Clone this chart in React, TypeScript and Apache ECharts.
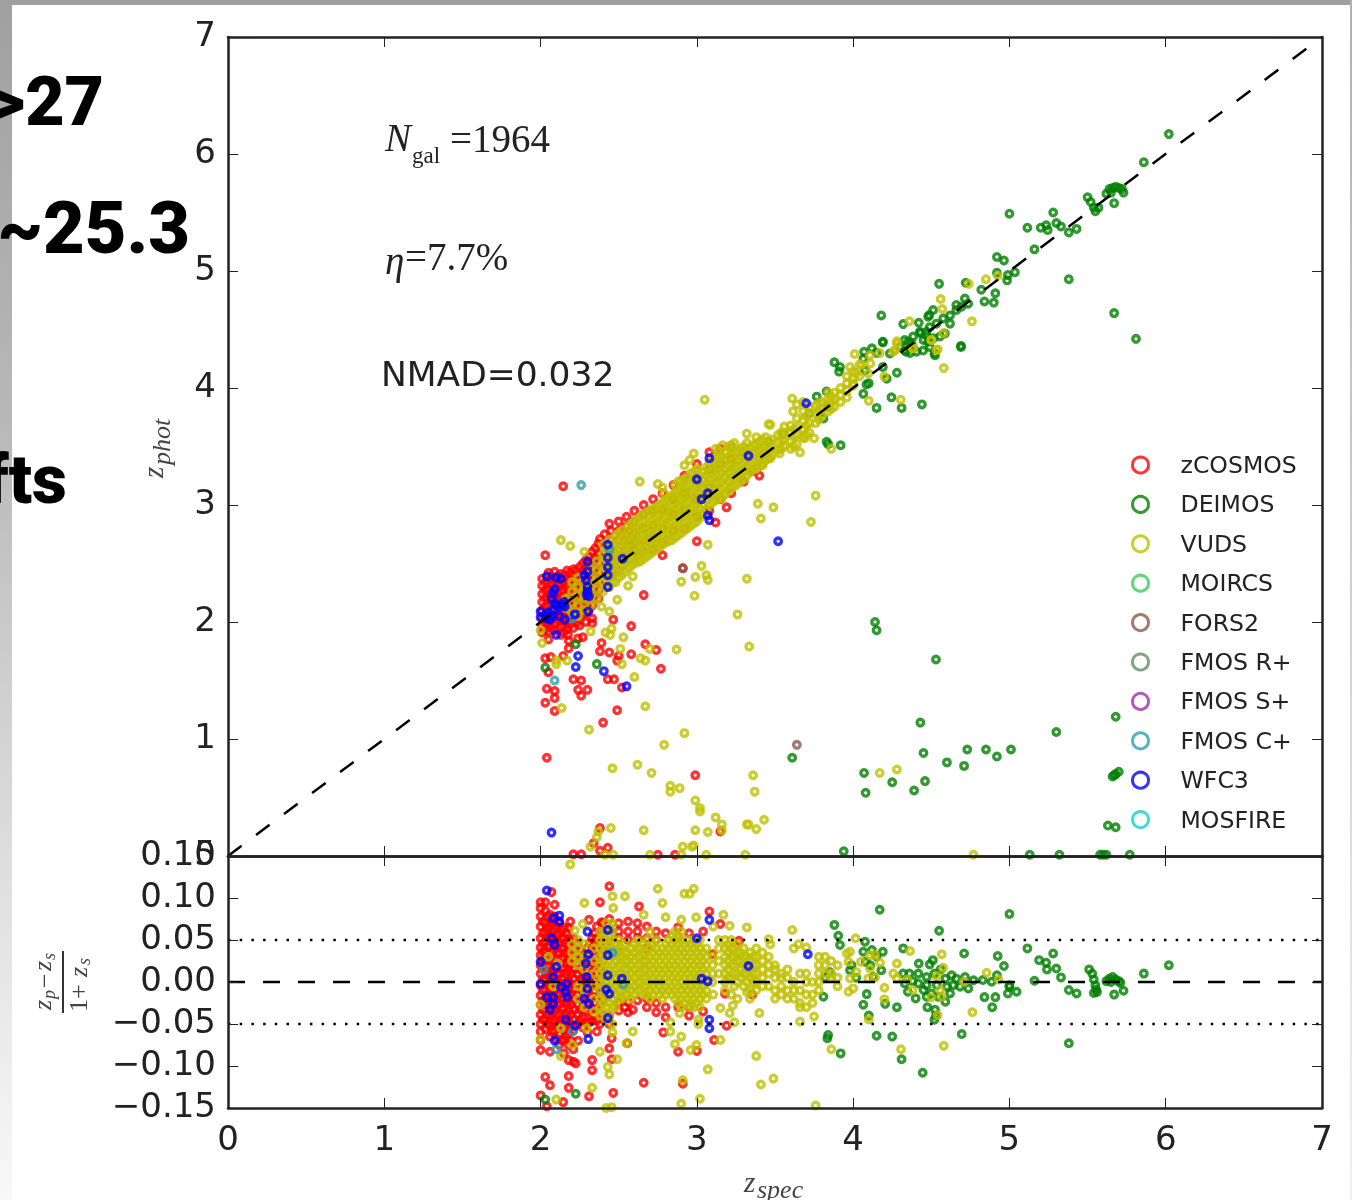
import React, { useEffect, useRef } from "react";
import * as echarts from "echarts";

type Cols = [number, number[]][];
const cols = (t: Cols) => t.flatMap(([x, ys]) => ys.map((y) => [x, y]));

const axisTicksTop = [0, 1, 2, 3, 4, 5, 6, 7];
const legendNames = ["zCOSMOS", "DEIMOS", "VUDS", "MOIRCS", "FORS2", "FMOS R+", "FMOS S+", "FMOS C+", "WFC3", "MOSFIRE"];
const legendColors = ["#ff0000", "#008000", "#bfbf00", "#3fc95f", "#8c5a45", "#5f9060", "#a030b0", "#2fa0a8", "#0000ff", "#10d0d8"];

/* ---------- upper panel: zspec, zphot ---------- */
const zcosmosTopLoose = [
  [2.145, 3.16], [2.03, 2.57], [2.38, 2.71], [2.44, 2.84], [2.58, 1.965], [2.66, 2.23], [2.67, 1.81], [2.74, 1.76], [2.58, 1.725], [2.77, 1.6],
  [2.39, 1.82], [2.38, 1.75], [2.44, 1.74], [2.5, 1.71], [2.49, 1.67], [2.43, 1.51], [2.47, 1.51], [2.52, 1.44], [2.49, 1.245], [2.4, 1.14],
  [2.03, 1.31], [2.09, 1.24], [2.09, 1.35], [2.09, 1.41], [2.04, 1.43], [2.26, 1.37], [2.24, 1.42], [2.3, 1.42], [2.26, 1.5], [2.21, 1.51],
  [2.05, 1.57], [2.03, 1.69], [2.065, 1.7], [2.145, 1.71], [2.18, 1.775], [2.18, 1.84], [2.175, 1.89], [2.24, 1.86], [2.27, 1.87], [2.33, 1.99],
  [2.33, 2.03], [2.465, 2.02], [2.78, 2.57], [3.19, 2.98], [3.12, 2.85], [3.0, 2.69], [2.91, 2.46], [3.36, 3.29], [3.4, 3.25], [2.04, 0.84],
  [2.99, 0.69], [3.15, 0.21], [2.38, 0.24], [2.34, 0.11], [2.43, 0.07], [2.38, 0.045], [2.21, 0.015], [2.26, 0.015], [2.75, 0.01], [2.86, 0.01],
];
const zcosmosTopCloud: Cols = [
  [2.01, [2.37, 2.31, 2.24, 2.17, 2.1, 2.03, 1.97, 1.91]],
  [2.05, [2.42, 2.35, 2.28, 2.2, 2.14, 2.06, 1.99, 1.92, 1.85]],
  [2.09, [2.43, 2.36, 2.29, 2.22, 2.15, 2.07, 1.98, 1.93]],
  [2.13, [2.41, 2.33, 2.26, 2.2, 2.11, 2.03, 1.96, 1.89]],
  [2.17, [2.44, 2.37, 2.3, 2.23, 2.16, 2.08, 2.0, 1.94]],
  [2.21, [2.45, 2.39, 2.31, 2.25, 2.17, 2.1, 2.02, 1.95]],
  [2.25, [2.47, 2.4, 2.33, 2.26, 2.19, 2.11, 2.04, 1.97]],
  [2.29, [2.53, 2.46, 2.38, 2.31, 2.24, 2.16, 2.08, 2.0]],
  [2.33, [2.6, 2.52, 2.44, 2.37, 2.3, 2.22, 2.14]],
  [2.37, [2.67, 2.58, 2.5, 2.42, 2.35, 2.27, 2.2]],
  [2.41, [2.75, 2.66, 2.59, 2.5, 2.43, 2.35]],
  [2.45, [2.78, 2.7, 2.62, 2.55, 2.47, 2.39]],
  [2.5, [2.86, 2.78, 2.7, 2.62, 2.53, 2.44]],
  [2.55, [2.9, 2.82, 2.74, 2.65, 2.57]],
  [2.6, [2.95, 2.86, 2.76, 2.68, 2.6]],
  [2.66, [3.0, 2.92, 2.8, 2.7, 2.6]],
  [2.72, [3.05, 2.95, 2.82, 2.72, 2.62]],
  [2.78, [3.1, 2.96, 2.8, 2.68]],
  [2.85, [3.17, 3.05, 2.92, 2.78]],
  [2.92, [3.25, 3.1, 2.95, 2.8]],
  [3.0, [3.35, 3.2, 3.05, 2.9]],
  [3.08, [3.45, 3.3, 3.15, 2.95]],
  [3.15, [3.48, 3.35, 3.05]],
  [3.22, [3.5, 3.4, 3.1]],
  [3.3, [3.45, 3.2]],
];
const zcosmosTopStagger: Cols = [
  [2.03, [2.34, 2.27, 2.2, 2.13, 2.06, 2.0, 1.94]],
  [2.07, [2.39, 2.32, 2.25, 2.18, 2.11, 2.03, 1.95]],
  [2.11, [2.39, 2.31, 2.24, 2.18, 2.09, 2.01]],
  [2.15, [2.4, 2.34, 2.27, 2.18, 2.12, 2.05, 1.97, 1.91]],
  [2.19, [2.42, 2.35, 2.28, 2.2, 2.13, 2.05, 1.98]],
  [2.23, [2.44, 2.36, 2.3, 2.22, 2.15, 2.07, 1.99]],
  [2.27, [2.5, 2.43, 2.36, 2.28, 2.21, 2.14, 2.06]],
  [2.31, [2.56, 2.49, 2.41, 2.34, 2.27, 2.19, 2.11]],
  [2.35, [2.63, 2.55, 2.47, 2.39, 2.32, 2.24]],
];
const deimosTop = [
  [4.14, 2.0], [4.15, 1.93], [4.53, 1.68], [4.43, 1.14], [5.3, 1.06], [5.68, 1.19], [4.45, 0.88], [4.73, 0.91], [4.85, 0.91], [5.01, 0.91],
  [4.92, 0.85], [4.6, 0.8], [4.71, 0.77], [4.07, 0.71], [4.25, 0.63], [4.46, 0.64], [4.39, 0.56], [4.08, 0.54], [3.61, 0.84], [5.7, 0.72],
  [5.67, 0.69], [5.66, 0.68], [5.68, 0.7], [5.63, 0.26], [5.68, 0.245], [3.94, 0.04], [5.13, 0.01], [5.32, 0.01], [5.58, 0.01], [5.6, 0.01],
  [5.62, 0.01], [5.77, 0.01], [2.225, 1.81], [2.36, 1.64], [2.03, 1.61],
  [3.83, 3.54], [3.84, 3.52], [3.92, 3.51], [3.81, 3.74], [3.88, 4.22], [3.91, 4.14], [4.07, 4.31], [4.19, 4.39], [4.69, 4.36], [4.28, 4.13],
  [4.085, 4.03], [4.065, 3.95], [4.245, 3.92], [4.15, 3.83], [4.31, 3.83], [4.44, 3.86],
  [6.02, 6.17], [5.86, 5.93], [5.0, 5.49], [5.28, 5.5], [5.115, 5.37], [5.2, 5.37], [5.235, 5.39], [5.245, 5.35], [5.3, 5.41], [5.33, 5.38],
  [5.38, 5.33], [5.43, 5.36], [5.16, 5.185], [4.92, 5.12], [4.965, 5.09], [5.38, 4.93], [5.67, 4.64], [5.81, 4.42], [4.69, 4.35], [4.55, 4.89],
  [4.18, 4.62], [5.5, 5.63], [5.52, 5.59], [5.54, 5.54], [5.55, 5.51], [5.57, 5.54], [5.67, 5.58], [5.73, 5.67], [5.64, 5.7], [5.66, 5.71],
  [5.68, 5.72], [5.7, 5.71], [5.72, 5.7], [5.62, 5.66], [5.65, 5.67], [5.035, 4.99], [4.99, 4.965], [4.985, 4.92], [4.92, 4.985], [4.91, 4.81],
  [4.9, 4.73], [4.84, 4.74], [4.82, 4.84], [4.72, 4.9], [4.32, 4.546], [4.42, 4.557], [4.487, 4.623], [4.512, 4.666], [4.62, 4.55], [4.66, 4.71],
  [4.715, 4.765], [4.736, 4.72], [4.19, 4.395], [4.33, 4.32], [4.405, 4.31], [4.45, 4.41], [4.47, 4.48], [4.52, 4.295], [4.587, 4.466], [4.427, 4.48],
  [4.384, 4.44], [4.352, 4.395], [4.3, 4.35], [4.49, 4.52], [4.533, 4.55], [4.576, 4.594], [4.62, 4.62], [4.66, 4.666], [4.694, 4.694], [4.555, 4.44],
  [4.49, 4.35], [4.448, 4.32], [4.374, 4.38], [4.33, 4.41], [4.235, 4.295], [4.48, 4.61], [4.34, 4.31], [4.385, 4.34], [4.43, 4.47], [4.48, 4.396],
  [4.524, 4.28], [4.47, 4.45], [4.513, 4.425], [4.065, 4.25], [4.12, 4.34], [4.076, 4.15], [4.15, 4.3], [4.215, 4.08], [3.916, 4.18], [3.767, 3.926],
  [3.83, 3.97], [3.84, 3.84], [3.72, 3.78], [3.553, 3.61], [3.457, 3.54], [4.364, 4.3], [4.19, 4.18], [4.1, 4.04],
];
const vudsTopLoose = [
  [2.31, 1.08], [2.92, 1.05], [2.79, 0.95], [2.46, 0.75], [2.62, 0.78], [2.71, 0.71], [3.36, 0.69], [3.37, 0.55], [2.83, 0.6], [2.89, 0.58],
  [2.83, 0.55], [2.99, 0.475], [3.02, 0.41], [3.02, 0.38], [3.12, 0.33], [3.16, 0.27], [3.16, 0.22], [3.07, 0.205], [2.99, 0.22], [3.32, 0.27],
  [3.33, 0.27], [3.38, 0.23], [3.43, 0.31], [2.66, 0.22], [2.45, 0.24], [2.37, 0.21], [2.36, 0.16], [2.32, 0.08], [2.41, 0.01], [2.465, 0.01],
  [2.7, 0.01], [2.9, 0.01], [3.06, 0.01], [3.31, 0.01], [2.91, 0.08], [2.97, 0.08], [2.98, 0.09], [4.17, 0.71], [4.28, 0.74], [4.77, 0.01],
  [2.13, 2.7], [2.19, 2.65], [2.28, 2.6], [2.9, 2.345], [2.99, 2.385], [3.03, 2.48], [3.06, 2.4], [3.07, 2.36], [2.985, 2.225], [3.32, 2.37],
  [3.26, 2.065], [3.335, 1.79], [2.87, 1.765], [2.67, 1.28], [2.135, 1.265], [2.6, 1.53], [2.52, 1.64], [2.67, 1.67], [2.64, 1.69], [2.7, 1.77],
  [2.51, 1.77], [2.53, 1.87], [2.455, 1.945], [2.445, 1.89], [2.415, 1.91], [2.32, 1.92], [2.01, 1.82], [2.0, 1.93], [2.1, 1.67], [2.1, 1.64],
  [2.17, 1.67], [2.59, 2.39], [2.56, 2.31], [2.49, 2.19], [2.39, 2.13], [2.44, 2.09], [3.07, 2.66], [3.39, 3.01], [3.49, 2.98], [3.41, 2.885],
  [2.635, 3.2], [2.75, 3.18], [2.78, 3.15], [2.79, 3.1], [3.05, 3.9], [3.76, 3.08], [3.73, 2.855], [3.32, 3.61], [2.98, 3.44], [2.92, 3.34],
  [2.955, 3.385], [3.0, 3.31], [3.165, 3.51], [3.21, 3.5], [3.38, 3.58], [3.46, 3.69], [3.47, 3.685], [3.61, 3.91], [3.615, 3.8], [3.66, 3.45],
  [3.75, 3.57], [3.69, 3.57], [3.53, 3.44], [3.47, 3.4], [3.42, 3.34], [3.86, 3.48], [4.1, 3.89], [4.305, 3.9], [4.58, 4.17], [4.01, 4.29],
  [4.74, 4.89], [4.85, 4.93], [4.925, 4.96], [4.76, 4.57], [4.56, 4.76], [4.57, 4.675], [4.36, 4.57], [4.5, 4.41], [4.54, 4.33], [4.38, 4.34],
  [4.27, 4.325], [4.28, 4.4], [4.28, 4.38], [4.257, 4.31], [4.385, 4.34], [4.5, 4.41], [4.577, 4.468], [4.534, 4.325], [4.108, 4.28], [4.17, 4.3],
  [4.11, 4.21], [4.097, 4.125], [4.2, 4.097], [3.98, 4.18], [4.02, 4.125], [3.96, 4.1], [4.0, 4.04], [4.055, 4.2],
];
const vudsTopCloud: Cols = [
  [2.16, [2.12, 2.2]],
  [2.2, [2.08, 2.16, 2.26, 2.34]],
  [2.24, [2.05, 2.14, 2.22, 2.3, 2.38]],
  [2.28, [2.1, 2.2, 2.28, 2.36]],
  [2.32, [2.14, 2.22, 2.3, 2.38, 2.46]],
  [2.36, [2.2, 2.28, 2.36, 2.44, 2.52]],
  [2.4, [2.26, 2.34, 2.42, 2.5, 2.58, 2.66]],
  [2.44, [2.3, 2.38, 2.46, 2.54, 2.62, 2.7]],
  [2.48, [2.34, 2.42, 2.5, 2.58, 2.66, 2.74]],
  [2.52, [2.4, 2.48, 2.55, 2.63, 2.7, 2.78]],
  [2.56, [2.46, 2.53, 2.6, 2.67, 2.74, 2.82]],
  [2.6, [2.5, 2.57, 2.64, 2.71, 2.78, 2.86]],
  [2.64, [2.52, 2.6, 2.67, 2.74, 2.81, 2.9]],
  [2.68, [2.56, 2.63, 2.7, 2.77, 2.84, 2.94]],
  [2.72, [2.6, 2.67, 2.74, 2.81, 2.88, 2.97]],
  [2.76, [2.64, 2.71, 2.78, 2.85, 2.92, 3.0]],
  [2.8, [2.68, 2.75, 2.82, 2.89, 2.96, 3.04]],
  [2.84, [2.7, 2.78, 2.86, 2.93, 3.0, 3.08]],
  [2.88, [2.74, 2.82, 2.9, 2.97, 3.04, 3.12, 3.2]],
  [2.92, [2.78, 2.86, 2.93, 3.0, 3.07, 3.14, 3.22]],
  [2.96, [2.82, 2.9, 2.97, 3.04, 3.11, 3.18, 3.27]],
  [3.0, [2.86, 2.94, 3.01, 3.08, 3.15, 3.22, 3.3]],
  [3.04, [2.92, 3.0, 3.07, 3.14, 3.21, 3.28]],
  [3.08, [3.0, 3.08, 3.15, 3.22, 3.29, 3.36]],
  [3.12, [3.04, 3.11, 3.18, 3.25, 3.32, 3.4, 3.48]],
  [3.16, [3.06, 3.14, 3.21, 3.28, 3.35, 3.42]],
  [3.2, [3.12, 3.2, 3.27, 3.34, 3.41, 3.5]],
  [3.24, [3.16, 3.24, 3.31, 3.38, 3.45, 3.53]],
  [3.28, [3.2, 3.27, 3.34, 3.41, 3.48]],
  [3.32, [3.25, 3.32, 3.39, 3.46, 3.53]],
  [3.36, [3.3, 3.37, 3.44, 3.51]],
  [3.4, [3.33, 3.4, 3.47, 3.54]],
  [3.44, [3.38, 3.44, 3.51, 3.58]],
  [3.48, [3.42, 3.49, 3.56]],
  [3.52, [3.47, 3.54, 3.6]],
  [3.56, [3.5, 3.56, 3.62, 3.67]],
  [3.6, [3.48, 3.55, 3.62, 3.68]],
  [3.64, [3.52, 3.6, 3.66, 3.74, 3.86]],
  [3.68, [3.58, 3.65, 3.72, 3.8, 3.88]],
  [3.72, [3.62, 3.7, 3.78, 3.84]],
  [3.76, [3.7, 3.78, 3.85]],
  [3.8, [3.76, 3.82, 3.88]],
  [3.84, [3.8, 3.86, 3.9, 3.96]],
  [3.88, [3.84, 3.9, 3.96]],
  [3.92, [3.88, 3.94, 4.0]],
  [3.96, [3.92, 3.98, 4.04]],
  [4.0, [4.02, 4.08, 4.14]],
  [4.04, [4.1, 4.2]],
];
const vudsTopStagger: Cols = [
  [2.42, [2.3, 2.38, 2.46, 2.54, 2.62]],
  [2.46, [2.34, 2.42, 2.5, 2.58, 2.66]],
  [2.5, [2.38, 2.46, 2.53, 2.61, 2.68, 2.76]],
  [2.54, [2.43, 2.51, 2.58, 2.65, 2.72]],
  [2.58, [2.48, 2.55, 2.62, 2.69, 2.76, 2.84]],
  [2.62, [2.51, 2.58, 2.65, 2.72, 2.8, 2.88]],
  [2.66, [2.54, 2.61, 2.68, 2.75, 2.82, 2.92]],
  [2.7, [2.58, 2.65, 2.72, 2.79, 2.86, 2.95]],
  [2.74, [2.62, 2.69, 2.76, 2.83, 2.9, 2.98]],
  [2.78, [2.66, 2.73, 2.8, 2.87, 2.94, 3.02]],
  [2.82, [2.69, 2.76, 2.84, 2.91, 2.98, 3.06]],
  [2.86, [2.72, 2.8, 2.88, 2.95, 3.02, 3.1, 3.17]],
  [2.9, [2.76, 2.84, 2.91, 2.98, 3.05, 3.13, 3.21]],
  [2.94, [2.8, 2.88, 2.95, 3.02, 3.09, 3.16, 3.24]],
  [2.98, [2.84, 2.92, 2.99, 3.06, 3.13, 3.2, 3.28]],
  [3.02, [2.89, 2.97, 3.04, 3.11, 3.18, 3.25]],
  [3.06, [2.96, 3.04, 3.11, 3.18, 3.25, 3.32]],
  [3.1, [3.02, 3.09, 3.16, 3.23, 3.3, 3.38]],
  [3.14, [3.05, 3.12, 3.19, 3.26, 3.33, 3.41, 3.46]],
  [3.18, [3.09, 3.17, 3.24, 3.31, 3.38, 3.45]],
  [3.22, [3.14, 3.22, 3.29, 3.36, 3.43, 3.51]],
  [3.26, [3.18, 3.25, 3.32, 3.39, 3.46]],
  [3.3, [3.22, 3.29, 3.36, 3.43, 3.5]],
  [3.34, [3.28, 3.35, 3.42, 3.49]],
  [3.38, [3.31, 3.38, 3.45, 3.52]],
  [3.42, [3.35, 3.42, 3.49, 3.56]],
  [3.46, [3.4, 3.47, 3.54]],
  [3.54, [3.48, 3.55, 3.62]],
  [3.62, [3.5, 3.58, 3.65]],
  [3.7, [3.6, 3.68, 3.76]],
  [3.78, [3.73, 3.8, 3.87]],
  [3.86, [3.82, 3.88, 3.93]],
];
const fors2Top = [[3.64, 0.95], [2.91, 2.46]];
const fmosCTop = [[2.26, 3.17], [2.09, 1.5], [2.44, 2.62], [2.2, 2.03]];
const wfc3Top = [
  [2.07, 0.2], [2.43, 2.66], [2.43, 2.55], [2.43, 2.47], [2.43, 2.4], [2.43, 2.3], [2.525, 2.54], [2.3, 2.515], [2.3, 2.43], [2.29, 2.36],
  [2.3, 2.3], [2.295, 2.23], [2.31, 2.22], [2.305, 2.09], [2.04, 2.39], [2.13, 2.37], [2.1, 2.38], [2.08, 2.245], [2.1, 2.145], [2.14, 2.15], [2.155, 2.13],
  [2.07, 2.2], [2.08, 2.1], [2.0, 2.09], [2.0, 2.04], [2.06, 2.02], [2.03, 2.05], [2.155, 2.02], [2.22, 2.065], [2.1, 1.89], [2.24, 1.71], [2.225, 1.615],
  [2.405, 1.58], [2.55, 1.45], [3.7, 3.87], [3.33, 3.42], [3.08, 3.4], [3.0, 3.22], [3.03, 3.05], [3.07, 3.1], [3.07, 2.91], [3.08, 2.87], [3.52, 2.69],
  [2.09, 2.16], [2.12, 2.13], [2.15, 2.17], [2.05, 2.08], [2.07, 2.05], [2.04, 2.03], [2.12, 2.05], [2.09, 2.28], [2.3, 2.26], [2.28, 2.4],
];

/* ---------- lower panel: zspec, (zp - zs) / (1 + zs) ---------- */
const zcosmosResLoose = [
  [2.44, 0.114], [2.07, 0.107], [2.38, 0.095], [2.0, 0.095], [2.03, 0.095], [2.0, 0.088], [2.09, 0.092], [2.63, 0.09], [2.31, 0.074], [2.19, 0.072],
  [2.05, 0.064], [2.39, 0.071], [3.08, 0.084], [3.15, 0.069], [3.27, 0.049], [3.1, 0.033], [3.18, -0.014], [3.355, -0.015], [3.19, -0.052], [3.11, -0.069],
  [2.88, -0.083], [3.0, -0.082], [2.785, -0.06], [2.59, -0.033], [2.54, -0.03], [2.36, -0.059], [2.455, -0.067], [2.555, -0.073], [2.44, -0.079], [2.455, -0.092],
  [2.33, -0.093], [2.33, -0.105], [2.225, -0.097], [2.18, -0.093], [2.0, -0.081], [2.06, -0.083], [2.18, -0.112], [2.03, -0.113], [2.06, -0.123], [2.18, -0.126],
  [2.31, -0.136], [2.465, -0.132], [2.66, -0.12], [2.91, -0.121], [2.0, -0.135], [2.145, -0.143], [2.04, -0.148], [2.0, -0.069], [2.0, -0.059],
];
const zcosmosResCloud: Cols = [
  [2.0, [0.078, 0.066, 0.052, 0.041, 0.032, 0.02, 0.01, -0.004, -0.016, -0.027, -0.039, -0.05]],
  [2.03, [0.085, 0.07, 0.06, 0.048, 0.037, 0.026, 0.013, 0.002, -0.009, -0.022, -0.033, -0.045, -0.056]],
  [2.06, [0.08, 0.067, 0.055, 0.043, 0.03, 0.019, 0.007, -0.006, -0.017, -0.028, -0.04, -0.052, -0.065]],
  [2.09, [0.078, 0.063, 0.05, 0.04, 0.028, 0.015, 0.004, -0.01, -0.022, -0.034, -0.046, -0.058]],
  [2.12, [0.07, 0.058, 0.046, 0.034, 0.022, 0.01, -0.002, -0.014, -0.026, -0.038, -0.05, -0.062, -0.075]],
  [2.15, [0.065, 0.053, 0.041, 0.029, 0.017, 0.005, -0.007, -0.019, -0.031, -0.043, -0.055, -0.068, -0.085]],
  [2.18, [0.064, 0.05, 0.038, 0.026, 0.014, 0.002, -0.01, -0.022, -0.034, -0.046, -0.06, -0.075]],
  [2.21, [0.052, 0.04, 0.028, 0.016, 0.004, -0.008, -0.02, -0.032, -0.044, -0.058, -0.08, -0.095]],
  [2.24, [0.045, 0.033, 0.021, 0.009, -0.003, -0.015, -0.027, -0.039, -0.05, -0.07]],
  [2.27, [0.03, 0.018, 0.006, -0.006, -0.018, -0.03, -0.042, -0.054]],
  [2.3, [0.04, 0.026, 0.012, 0.0, -0.012, -0.024, -0.036, -0.048, -0.06]],
  [2.33, [0.052, 0.038, 0.024, 0.01, -0.004, -0.018, -0.032, -0.046]],
  [2.36, [0.066, 0.052, 0.038, 0.024, 0.01, -0.004, -0.018, -0.032, -0.046]],
  [2.4, [0.07, 0.056, 0.04, 0.025, 0.01, -0.006, -0.022, -0.04]],
  [2.44, [0.075, 0.062, 0.048, -0.04, -0.05]],
  [2.5, [0.07, 0.06, 0.052, 0.036, -0.025, -0.034]],
  [2.56, [0.072, 0.06, 0.05, -0.024, -0.036]],
  [2.62, [0.07, 0.06, 0.052, -0.022]],
  [2.68, [0.066, 0.052, 0.04, -0.02, -0.03]],
  [2.74, [0.06, 0.05, -0.025, -0.036]],
  [2.8, [0.058, -0.03, -0.042]],
  [2.88, [0.065, 0.054, -0.03]],
  [2.95, [0.058, -0.03, -0.04]],
  [3.04, [0.06, -0.035]],
];
const zcosmosResStagger: Cols = [
  [2.015, [0.072, 0.058, 0.046, 0.036, 0.026, 0.015, 0.003, -0.01, -0.022, -0.033, -0.045]],
  [2.045, [0.078, 0.064, 0.054, 0.042, 0.031, 0.02, 0.01, -0.003, -0.015, -0.028, -0.039, -0.05]],
  [2.075, [0.072, 0.06, 0.048, 0.036, 0.024, 0.011, -0.002, -0.014, -0.025, -0.037, -0.049, -0.06]],
  [2.105, [0.066, 0.056, 0.045, 0.034, 0.021, 0.009, -0.003, -0.016, -0.028, -0.04, -0.052, -0.068]],
  [2.135, [0.062, 0.052, 0.04, 0.028, 0.016, 0.004, -0.008, -0.02, -0.032, -0.044, -0.056, -0.07]],
  [2.165, [0.058, 0.046, 0.034, 0.022, 0.01, -0.002, -0.014, -0.026, -0.038, -0.05, -0.064]],
  [2.195, [0.048, 0.034, 0.022, 0.01, -0.003, -0.015, -0.027, -0.039, -0.052, -0.07]],
  [2.255, [0.038, 0.027, 0.015, 0.003, -0.009, -0.021, -0.033, -0.045]],
  [2.315, [0.046, 0.032, 0.018, 0.005, -0.007, -0.02, -0.034, -0.048]],
  [2.345, [0.058, 0.045, 0.031, 0.017, 0.003, -0.011, -0.025, -0.04]],
  [2.38, [0.06, 0.046, 0.03, 0.016, 0.002, -0.014, -0.03, -0.05]],
];
const deimosRes = [
  [2.03, -0.14], [2.225, -0.133], [3.88, 0.068], [3.905, 0.055], [3.916, 0.044], [4.17, 0.086], [5.0, 0.081], [4.55, 0.061], [5.115, 0.04], [5.28, 0.034],
  [5.19, 0.026], [5.235, 0.023], [5.24, 0.015], [5.3, 0.016], [5.33, 0.0055], [5.16, 0.0015], [5.51, 0.015], [5.86, 0.01], [6.02, 0.02], [5.38, -0.0096],
  [5.43, -0.0136], [5.67, -0.015], [5.73, -0.0104], [5.64, 0.004], [5.66, 0.006], [5.68, 0.003], [5.7, 0.001], [5.71, -0.001], [5.62, 0.001], [5.65, 0.0],
  [5.53, 0.01], [5.54, 0.003], [5.55, -0.004], [5.555, -0.009], [5.56, -0.012], [5.54, -0.013], [5.38, -0.073],
  [4.925, 0.031], [4.965, 0.019], [4.71, 0.034], [3.84, -0.063], [3.835, -0.067], [3.92, -0.085], [4.15, -0.064], [4.25, -0.065], [4.31, -0.092], [4.445, -0.108],
  [4.695, -0.062], [4.065, -0.027], [4.1, -0.04], [4.205, -0.026], [4.28, -0.03], [4.84, -0.018], [4.91, -0.018], [4.89, -0.03], [5.046, -0.0116], [4.99, -0.0136],
  [5.0, -0.0056], [4.087, -0.0144], [3.81, -0.0175], [4.52, -0.045], [4.53, -0.04], [4.524, -0.033], [4.475, -0.03], [4.59, -0.0235], [4.62, -0.0136], [4.4, -0.0195],
  [4.35, -0.0116], [4.065, 0.036], [4.12, 0.038], [4.19, 0.036], [4.076, 0.048], [4.32, 0.04], [4.42, 0.022], [4.51, 0.026], [4.49, 0.021], [3.98, 0.014],
  [4.11, 0.02], [4.18, 0.014], [4.13, 0.006], [4.32, 0.01], [4.36, 0.01], [4.417, 0.01], [4.47, 0.006], [4.52, 0.01], [4.59, 0.004], [4.66, 0.004],
  [4.716, 0.006], [4.83, 0.0023], [4.886, 0.0003], [4.92, 0.008], [5.0, -0.004], [4.33, -0.0017], [4.417, -0.0017], [4.47, -0.0037], [4.535, -0.0037], [4.6, -0.0056],
  [4.64, -0.0037], [4.684, -0.0056], [4.737, -0.0076], [4.45, -0.0096], [4.5, -0.0136], [4.545, -0.0175], [4.47, -0.0175], [4.38, 0.001], [4.56, 0.015], [4.63, 0.008],
  [4.77, 0.002], [4.08, 0.024], [4.15, 0.03], [3.99, 0.02], [4.02, 0.005], [3.85, 0.012], [3.82, 0.005],
];
const vudsResLoose = [
  [2.75, 0.111], [2.98, 0.111], [2.92, 0.105], [2.955, 0.105], [2.54, 0.102], [2.46, 0.102], [2.28, 0.094], [2.78, 0.094], [2.465, 0.088], [2.8, 0.077],
  [2.9, 0.074], [2.995, 0.077], [3.17, 0.08], [3.32, 0.065], [3.61, 0.062], [3.105, 0.066], [3.21, 0.067], [3.46, 0.051], [3.47, 0.045], [3.7, 0.041],
  [3.62, 0.04], [3.65, 0.045], [2.27, 0.069], [2.22, 0.061], [2.66, 0.08], [2.19, 0.14], [2.59, -0.059], [2.55, -0.073], [2.49, -0.092], [2.43, -0.101],
  [2.44, -0.11], [2.33, -0.126], [2.83, -0.048], [2.89, -0.037], [2.83, -0.059], [2.9, -0.065], [2.86, -0.074], [2.96, -0.081], [2.998, -0.075], [3.15, -0.069],
  [3.07, -0.104], [3.38, -0.088], [3.49, -0.115], [3.41, -0.122], [2.91, -0.117], [3.02, -0.139], [2.9, -0.145], [3.76, -0.147], [2.1, -0.14], [2.455, -0.149],
  [2.42, -0.15], [3.4, -0.037], [3.75, -0.041], [3.66, -0.047], [3.24, -0.048], [3.21, -0.037], [3.23, -0.028], [3.15, -0.031], [3.105, -0.015], [2.955, -0.03],
  [3.01, -0.045], [3.01, -0.05], [2.0, -0.068], [2.13, -0.088], [2.205, -0.075], [2.13, -0.055], [2.295, -0.055], [2.38, -0.083], [2.0, -0.027], [2.05, 0.03],
  [2.11, 0.022], [2.08, -0.005],
  [4.016, 0.052], [3.96, 0.034], [3.98, 0.036], [3.97, 0.024], [4.05, 0.024], [4.108, 0.032], [4.14, 0.032], [4.172, 0.023], [4.108, 0.016], [4.02, 0.012],
  [4.14, 0.0055], [4.097, 0.0043], [3.98, 0.0043], [4.0, -0.0076], [3.97, -0.0116], [4.2, -0.0068], [4.2, -0.0207], [4.364, 0.037], [4.28, 0.022], [4.257, 0.01],
  [4.28, 0.0043], [4.347, 0.003], [4.38, -0.0096], [4.567, 0.033], [4.577, 0.017], [4.535, 0.007], [4.556, -0.0096], [4.567, -0.0175], [4.5, -0.0183], [4.54, -0.0394],
  [4.1, -0.0445], [3.86, -0.08], [4.306, -0.08], [4.58, -0.076], [4.763, -0.036], [4.854, 0.011], [4.93, 0.003], [4.71, 0.0003],
];
const vudsResCloud: Cols = [
  [2.2, [0.045, 0.035, 0.025]],
  [2.24, [0.05, 0.04, 0.03, 0.02, -0.005, -0.02]],
  [2.28, [0.045, 0.03, 0.015, -0.01, -0.03]],
  [2.34, [0.04, 0.025, 0.01, -0.005, -0.02, -0.035]],
  [2.38, [0.06, 0.05, 0.04, 0.03, 0.02, 0.01, 0, -0.01, -0.02, -0.03, -0.04]],
  [2.42, [0.07, 0.06, 0.05, 0.04, 0.03, 0.02, 0.01, 0, -0.01, -0.02, -0.03, -0.045]],
  [2.46, [0.07, 0.06, 0.05, 0.04, 0.03, 0.02, 0.01, 0, -0.01, -0.02, -0.03, -0.05, -0.06]],
  [2.5, [0.05, 0.04, 0.03, 0.02, 0.01, 0, -0.01, -0.02]],
  [2.54, [0.045, 0.035, 0.025, 0.015, 0.005, -0.005, -0.015]],
  [2.58, [0.04, 0.03, 0.02, 0.01, 0, -0.01, -0.02]],
  [2.62, [0.05, 0.04, 0.03, 0.02, 0.01, 0, -0.01]],
  [2.66, [0.045, 0.035, 0.025, 0.015, 0.005, -0.005, -0.015]],
  [2.7, [0.06, 0.04, 0.03, 0.02, 0.01, 0, -0.01, -0.02]],
  [2.74, [0.05, 0.04, 0.03, 0.02, 0.01, 0, -0.01]],
  [2.78, [0.04, 0.03, 0.02, 0.01, 0, -0.01, -0.02]],
  [2.82, [0.05, 0.04, 0.03, 0.02, 0.01, 0, -0.01]],
  [2.86, [0.06, 0.05, 0.04, 0.03, 0.02, 0.01, 0, -0.01, -0.02]],
  [2.9, [0.06, 0.05, 0.04, 0.03, 0.02, 0.01, 0, -0.01, -0.02, -0.03]],
  [2.94, [0.05, 0.04, 0.03, 0.02, 0.01, 0, -0.01, -0.02]],
  [2.98, [0.05, 0.04, 0.03, 0.02, 0.01, 0, -0.01, -0.02, -0.03]],
  [3.02, [0.05, 0.04, 0.03, 0.02, 0.01, 0, -0.01, -0.02, -0.03]],
  [3.06, [0.04, 0.03, 0.02, 0.01, 0, -0.01, -0.02]],
  [3.1, [0.03, 0.02, 0.01, 0]],
  [3.14, [0.05, 0.04, 0.025, 0.01]],
  [3.18, [0.05, 0.04, 0.03, 0.02, 0.01, 0, -0.01]],
  [3.22, [0.05, 0.04, 0.03, 0.02, 0.005, -0.015]],
  [3.26, [0.045, 0.035, 0.025, 0.01, 0, -0.02]],
  [3.3, [0.04, 0.03, 0.02, 0.01, -0.005]],
  [3.34, [0.035, 0.025, 0.015, 0.005, -0.01, -0.02]],
  [3.38, [0.04, 0.03, 0.02, 0.01, 0, -0.01]],
  [3.42, [0.035, 0.025, 0.015, 0.005, -0.005]],
  [3.46, [0.03, 0.02, 0.01, -0.005]],
  [3.5, [0.02, 0.015, 0.005, -0.01, -0.02]],
  [3.54, [0.01, 0.005, -0.005, -0.015]],
  [3.58, [0.015, 0.005, -0.01, -0.02]],
  [3.62, [0, -0.01, -0.02]],
  [3.66, [0.01, -0.01, -0.025, -0.03]],
  [3.7, [0.01, 0, -0.015, -0.03]],
  [3.74, [0, -0.015, -0.025]],
  [3.78, [0.03, 0.02, 0.01, 0, -0.01]],
  [3.82, [0.03, 0.02, 0.01]],
  [3.86, [0.025, 0.01, 0.005]],
  [3.9, [0.02, 0.005, -0.005]],
];
const vudsResStagger: Cols = [
  [2.4, [0.055, 0.045, 0.035, 0.025, 0.015, 0.005, -0.005, -0.015, -0.025, -0.035]],
  [2.44, [0.065, 0.055, 0.045, 0.035, 0.025, 0.015, 0.005, -0.005, -0.015, -0.025, -0.04]],
  [2.48, [0.045, 0.035, 0.025, 0.015, 0.005, -0.005, -0.015, -0.03]],
  [2.52, [0.04, 0.03, 0.02, 0.01, 0, -0.01, -0.02]],
  [2.56, [0.035, 0.025, 0.015, 0.005, -0.005, -0.015]],
  [2.6, [0.045, 0.035, 0.025, 0.015, 0.005, -0.005, -0.015]],
  [2.64, [0.04, 0.03, 0.02, 0.01, 0, -0.01]],
  [2.68, [0.05, 0.035, 0.025, 0.015, 0.005, -0.005, -0.015]],
  [2.72, [0.045, 0.035, 0.025, 0.015, 0.005, -0.005, -0.015]],
  [2.76, [0.035, 0.025, 0.015, 0.005, -0.005, -0.015]],
  [2.8, [0.045, 0.035, 0.025, 0.015, 0.005, -0.005, -0.015]],
  [2.84, [0.055, 0.045, 0.035, 0.025, 0.015, 0.005, -0.005, -0.015]],
  [2.88, [0.055, 0.045, 0.035, 0.025, 0.015, 0.005, -0.005, -0.015, -0.025]],
  [2.92, [0.045, 0.035, 0.025, 0.015, 0.005, -0.005, -0.015, -0.025]],
  [2.96, [0.045, 0.035, 0.025, 0.015, 0.005, -0.005, -0.015, -0.025]],
  [3.0, [0.045, 0.035, 0.025, 0.015, 0.005, -0.005, -0.015, -0.025]],
  [3.04, [0.035, 0.025, 0.015, 0.005, -0.005, -0.015]],
  [3.2, [0.045, 0.035, 0.025, 0.015, 0.005]],
  [3.24, [0.04, 0.03, 0.02, 0.01, -0.005]],
  [3.28, [0.035, 0.025, 0.015, 0.005]],
  [3.32, [0.03, 0.02, 0.01, 0, -0.012]],
  [3.36, [0.03, 0.02, 0.01, 0]],
];
const fmosCRes = [[2.02, 0.015], [2.46, 0.035], [2.53, -0.003], [2.205, -0.059], [2.1, -0.08]];
const wfc3Res = [
  [2.04, 0.109], [2.08, 0.076], [2.12, 0.079], [2.12, 0.072], [2.3, 0.06], [2.43, 0.062], [2.07, 0.052], [2.09, 0.044], [2.0, 0.024], [2.1, 0.018],
  [2.08, 0.006], [2.0, -0.002], [2.17, -0.002], [2.13, -0.006], [2.16, -0.012], [2.17, -0.018], [2.04, -0.018], [2.08, -0.018], [2.08, -0.026], [2.06, -0.033],
  [2.28, -0.02], [2.31, -0.026], [2.3, -0.008], [2.295, 0.006], [2.29, 0.022], [2.305, 0.033], [2.43, 0.032], [2.43, 0.008], [2.42, -0.009], [2.44, -0.014],
  [2.43, -0.043], [2.16, -0.045], [2.22, -0.052], [2.09, -0.07], [2.305, -0.068], [2.52, 0.004], [3.08, 0.074], [3.0, 0.052], [3.03, 0.004], [3.07, 0.001],
  [3.08, -0.045], [3.08, -0.055], [3.33, 0.019], [3.71, 0.033],
];
const diagonalLine = [[0, 0], [7, 7]];
const zeroLine = [[0, 0], [7, 0]];
const upperLimit = [[0, 0.05], [7, 0.05]];
const lowerLimit = [[0, -0.05], [7, -0.05]];

const serif = "'Liberation Serif', 'DejaVu Serif', serif";
const sans = "'DejaVu Sans', sans-serif";
const ink = "#222222";

const txt = (text: string, x: number, y: number, fontSize: number, extra: any = {}) => ({
  type: "text", x, y, z: 20,
  style: { text, fontSize, fontFamily: serif, fill: ink, textVerticalAlign: "middle", textAlign: "left", ...extra },
});

function scatter(name: string, color: string, data: number[][], panel: number) {
  return {
    type: "scatter", name, data, xAxisIndex: panel * 2, yAxisIndex: panel * 2, clip: true, z: 2,
    symbol: "circle", symbolSize: 6.5,
    itemStyle: { color: "transparent", borderColor: color, borderWidth: 3.4 },
    emphasis: { disabled: true }, silent: true,
  };
}
function refLine(data: number[][], type: any, panel: number, width: number) {
  return {
    type: "line", data, xAxisIndex: panel * 2, yAxisIndex: panel * 2, z: 4, symbol: "none", silent: true,
    lineStyle: { color: "#000", width, type }, legendHoverLink: false,
  };
}

export default function App() {
  const ref = useRef<HTMLDivElement>(null);
  useEffect(() => {
    const chart = echarts.init(ref.current!, undefined, { renderer: "svg" });
    const spine = { show: true, onZero: false, lineStyle: { color: ink, width: 2.5 } };
    const tick = { show: true, inside: true, length: 10, lineStyle: { color: ink, width: 1 } };
    const xBase = { type: "value", min: 0, max: 7, interval: 1, splitLine: { show: false }, axisLine: spine, axisTick: tick, z: 6 };
    const yTop = { type: "value", min: 0, max: axisTicksTop[7], interval: 1, splitLine: { show: false }, axisLine: spine, axisTick: tick, z: 6 };
    const yBot = { type: "value", min: -0.15, max: 0.15, interval: 0.05, splitLine: { show: false }, axisLine: spine, axisTick: tick, z: 6 };
    const lab = { show: true, fontSize: 34, fontFamily: sans, color: ink, hideOverlap: false, showMinLabel: true, showMaxLabel: true };
    const noLab = { show: false };
    chart.setOption({
      animation: false,
      backgroundColor: "#ffffff",
      grid: [
        { left: 228, top: 37, width: 1094, height: 819 },
        { left: 228, top: 856, width: 1094, height: 252 },
      ],
      xAxis: [
        { ...xBase, gridIndex: 0, position: "bottom", axisLabel: noLab },
        { ...xBase, gridIndex: 0, position: "top", axisLabel: noLab },
        { ...xBase, gridIndex: 1, position: "bottom", axisLabel: { ...lab, margin: 13 } },
        { ...xBase, gridIndex: 1, position: "top", axisLabel: noLab },
      ],
      yAxis: [
        { ...yTop, gridIndex: 0, position: "left", axisLabel: { ...lab, margin: 12, verticalAlign: "bottom", lineHeight: 7 } },
        { ...yTop, gridIndex: 0, position: "right", axisLabel: noLab },
        {
          ...yBot, gridIndex: 1, position: "left",
          axisLabel: { ...lab, margin: 12, verticalAlign: "bottom", lineHeight: 7, formatter: (v: number) => v.toFixed(2).replace("-", "\u2212") },
        },
        { ...yBot, gridIndex: 1, position: "right", axisLabel: noLab },
      ],
      legend: {
        orient: "vertical", left: 1126, top: 448, itemWidth: 16, itemHeight: 16, itemGap: 15.4, selectedMode: false,
        textStyle: { fontSize: 23.6, fontFamily: sans, color: ink, padding: [0, 0, 2, 27] },
        data: legendNames.map((name, i) => ({
          name, icon: "circle",
          itemStyle: { color: "#ffffff", borderColor: legendColors[i], borderWidth: 3 },
        })),
      },
      series: [
        scatter(legendNames[0], legendColors[0], [...cols(zcosmosTopCloud), ...cols(zcosmosTopStagger), ...zcosmosTopLoose], 0),
        scatter(legendNames[1], legendColors[1], deimosTop, 0),
        scatter(legendNames[2], legendColors[2], [...cols(vudsTopCloud), ...cols(vudsTopStagger), ...vudsTopLoose], 0),
        scatter(legendNames[3], legendColors[3], [], 0),
        scatter(legendNames[4], legendColors[4], fors2Top, 0),
        scatter(legendNames[5], legendColors[5], [], 0),
        scatter(legendNames[6], legendColors[6], [], 0),
        scatter(legendNames[7], legendColors[7], fmosCTop, 0),
        scatter(legendNames[8], legendColors[8], wfc3Top, 0),
        scatter(legendNames[9], legendColors[9], [], 0),
        scatter(legendNames[0], legendColors[0], [...cols(zcosmosResCloud), ...cols(zcosmosResStagger), ...zcosmosResLoose], 1),
        scatter(legendNames[1], legendColors[1], deimosRes, 1),
        scatter(legendNames[2], legendColors[2], [...cols(vudsResCloud), ...cols(vudsResStagger), ...vudsResLoose], 1),
        scatter(legendNames[7], legendColors[7], fmosCRes, 1),
        scatter(legendNames[8], legendColors[8], wfc3Res, 1),
        refLine(diagonalLine, [17, 18], 0, 2.5),
        refLine(zeroLine, [17, 18], 1, 2.5),
        refLine(upperLimit, [2.5, 9.2], 1, 2.5),
        refLine(lowerLimit, [2.5, 9.2], 1, 2.5),
      ],
      graphic: [
        {
          type: "rect", x: 0, y: 0, z: 0, shape: { x: 0, y: 0, width: 12, height: 1200 },
          style: {
            fill: new echarts.graphic.LinearGradient(0, 0, 0, 1, [
              { offset: 0, color: "#a0a0a0" }, { offset: 0.35, color: "#b8b8b8" }, { offset: 0.7, color: "#dcdcdc" }, { offset: 1, color: "#f8f8f8" },
            ]),
          },
        },
        { type: "rect", x: 0, y: 0, z: 0, shape: { x: 0, y: 0, width: 1352, height: 5 }, style: { fill: "#a0a0a0" } },
        {
          type: "rect", x: 1350, y: 0, z: 0, shape: { x: 0, y: 0, width: 2, height: 1200 },
          style: {
            fill: new echarts.graphic.LinearGradient(0, 0, 0, 1, [
              { offset: 0, color: "#b0b0b0" }, { offset: 1, color: "#f0f0f0" },
            ]),
          },
        },
        txt(">27", 104, 102, 68, { fontFamily: "Roboto, sans-serif", fontWeight: 900, fill: "#000", textAlign: "right" }),
        txt("~25.3", 190, 228, 72, { fontFamily: "Roboto, sans-serif", fontWeight: 900, fill: "#000", textAlign: "right" }),
        txt("fts", 67, 480, 68, { fontFamily: "Roboto, sans-serif", fontWeight: 900, fill: "#000", textAlign: "right" }),
        txt("N", 385, 137, 39, { fontStyle: "italic" }),
        txt("gal", 412, 155, 23),
        txt("=1964", 450, 138, 39),
        txt("\u03b7", 385, 260, 39, { fontStyle: "italic" }),
        txt("=7.7%", 405, 256, 39),
        txt("NMAD=0.032", 381, 374, 34.5, { fontFamily: sans }),
        {
          type: "group", x: 153, y: 448, rotation: Math.PI / 2, z: 20,
          children: [
            txt("z", -30, 0, 29, { fontStyle: "italic", fill: "#444" }),
            txt("phot", -17, 8, 26, { fontStyle: "italic", fill: "#444" }),
          ],
        },
        txt("z", 744, 1182, 29, { fontStyle: "italic", fill: "#444" }),
        txt("spec", 757, 1189, 26, { fontStyle: "italic", fill: "#444" }),
        {
          type: "group", x: 63, y: 982, rotation: Math.PI / 2, z: 20,
          children: [
            txt("z", -28, -21, 26, { fontStyle: "italic", fill: "#444" }),
            txt("p", -17, -14, 18, { fontStyle: "italic", fill: "#444" }),
            txt("\u2212", -6, -19, 26, { fill: "#444" }),
            txt("z", 11, -21, 26, { fontStyle: "italic", fill: "#444" }),
            txt("s", 22, -14, 18, { fontStyle: "italic", fill: "#444" }),
            { type: "line", z: 20, shape: { x1: -31, y1: 0, x2: 31, y2: 0 }, style: { stroke: "#333", lineWidth: 2 } },
            txt("1+", -30, 15, 26, { fill: "#444" }),
            txt("z", 5, 15, 26, { fontStyle: "italic", fill: "#444" }),
            txt("s", 17, 21, 18, { fontStyle: "italic", fill: "#444" }),
          ],
        },
      ],
    });
    return () => chart.dispose();
  }, []);
  return (
    <div
      ref={ref}
      style={{ position: "absolute", left: 0, top: 0, width: 1352, height: 1200, filter: "blur(0.5px)" }}
    />
  );
}
